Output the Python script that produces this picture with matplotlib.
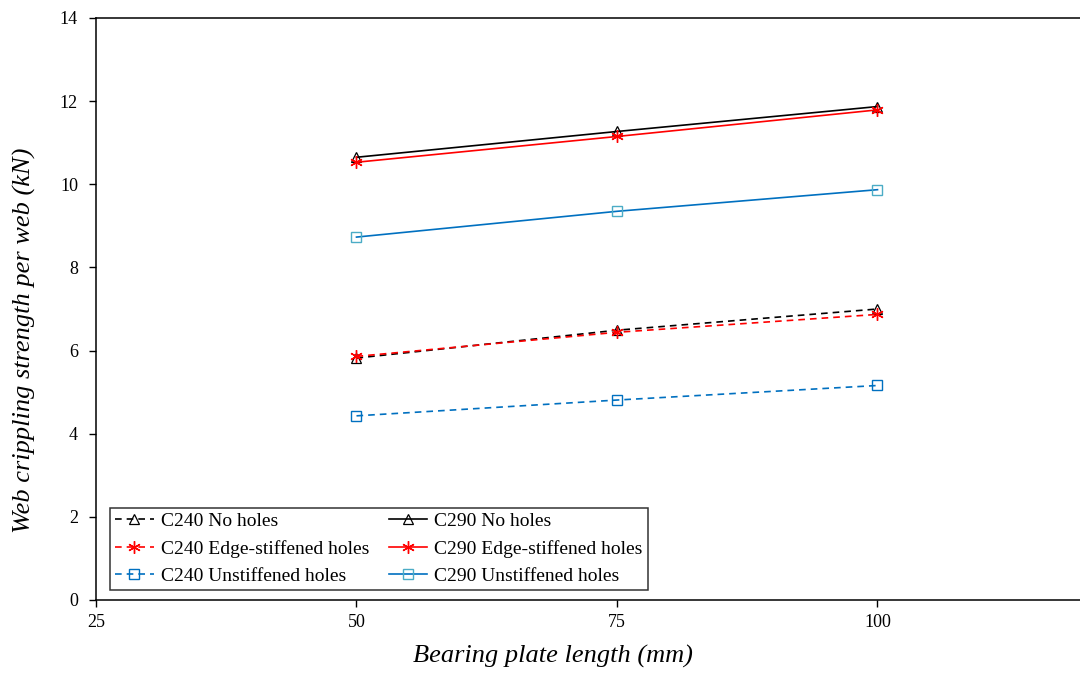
import matplotlib
matplotlib.use("Agg")
import matplotlib.pyplot as plt

plate_length = [50, 75, 100]
c240_no_holes = [5.82, 6.49, 7.00]
c240_edge = [5.86, 6.44, 6.87]
c240_unstiff = [4.43, 4.81, 5.16]
c290_no_holes = [10.65, 11.27, 11.87]
c290_edge = [10.53, 11.15, 11.79]
c290_unstiff = [8.73, 9.35, 9.87]
x_ticks = [25, 50, 75, 100]
y_ticks = [0, 2, 4, 6, 8, 10, 12, 14]

plt.rcParams['font.family'] = ['Liberation Serif', 'DejaVu Serif']

fig = plt.figure(figsize=(10.8, 6.73), dpi=100)
left = 96 / 1080
bottom = 1 - 600 / 673
top = 1 - 18 / 673
right_px = 96 + 100 * (877 - 356) / 50
ax = fig.add_axes([left, bottom, (right_px - 96) / 1080, top - bottom])

blue = '#0070C0'
teal = '#4BACC6'
red = '#FF0000'
ast = (6, 2, 0)
dash = (0, (4, 3))

h1, = ax.plot(plate_length, c240_no_holes, color='black', ls=dash, lw=1.2,
              marker='^', ms=7, mfc='none', mec='black', mew=0.9, label='C240 No holes')
h2, = ax.plot(plate_length, c240_edge, color=red, ls=dash, lw=1.2,
              marker=ast, ms=9, mec=red, mew=1.0, label='C240 Edge-stiffened holes')
h3, = ax.plot(plate_length, c240_unstiff, color=blue, ls=dash, lw=1.2,
              marker='s', ms=7, mfc='none', mec=blue, mew=1.0, label='C240 Unstiffened holes')
h4, = ax.plot(plate_length, c290_no_holes, color='black', ls='-', lw=1.2,
              marker='^', ms=7, mfc='none', mec='black', mew=0.9, label='C290 No holes')
h5, = ax.plot(plate_length, c290_edge, color=red, ls='-', lw=1.2,
              marker=ast, ms=9, mec=red, mew=1.0, label='C290 Edge-stiffened holes')
h6, = ax.plot(plate_length, c290_unstiff, color=blue, ls='-', lw=1.2,
              marker='s', ms=7, mfc='none', mec=teal, mew=1.0, label='C290 Unstiffened holes')

ax.set_xlim(25, 125)
ax.set_ylim(0, 14)
ax.set_xticks(x_ticks)
ax.set_yticks(y_ticks)
ax.tick_params(axis='both', direction='out', length=5, width=1, labelsize=13, colors='black')
ax.tick_params(axis='y', pad=8)
ax.tick_params(axis='x', pad=5)
for s in ax.spines.values():
    s.set_linewidth(1.1)
    s.set_color('black')

ax.set_xlabel('Bearing plate length (mm)', fontsize=19, style='italic')
ax.set_ylabel('Web crippling strength per web (kN)', fontsize=19, style='italic')
ax.xaxis.set_label_coords((553 - 96) / (right_px - 96), -(656 - 600) / 582, transform=ax.transAxes)
ax.yaxis.set_label_coords(-(96 - 24) / (right_px - 96), (600 - 340) / 582, transform=ax.transAxes)
ax.xaxis.label.set_va('center')
ax.yaxis.label.set_va('center')

handles = [h1, h2, h3, h4, h5, h6]
leg = ax.legend(handles, [h.get_label() for h in handles], ncol=2, loc='lower left',
                bbox_to_anchor=((110 - 96) / (right_px - 96), 10 / 582),
                fontsize=14, frameon=True, fancybox=False, edgecolor='black',
                handlelength=2.0, handletextpad=0.36, columnspacing=1.0, labelspacing=0.5,
                borderpad=0.25, borderaxespad=0, numpoints=1)
leg.get_frame().set_linewidth(1.1)

fig.savefig('out.png', dpi=100)
